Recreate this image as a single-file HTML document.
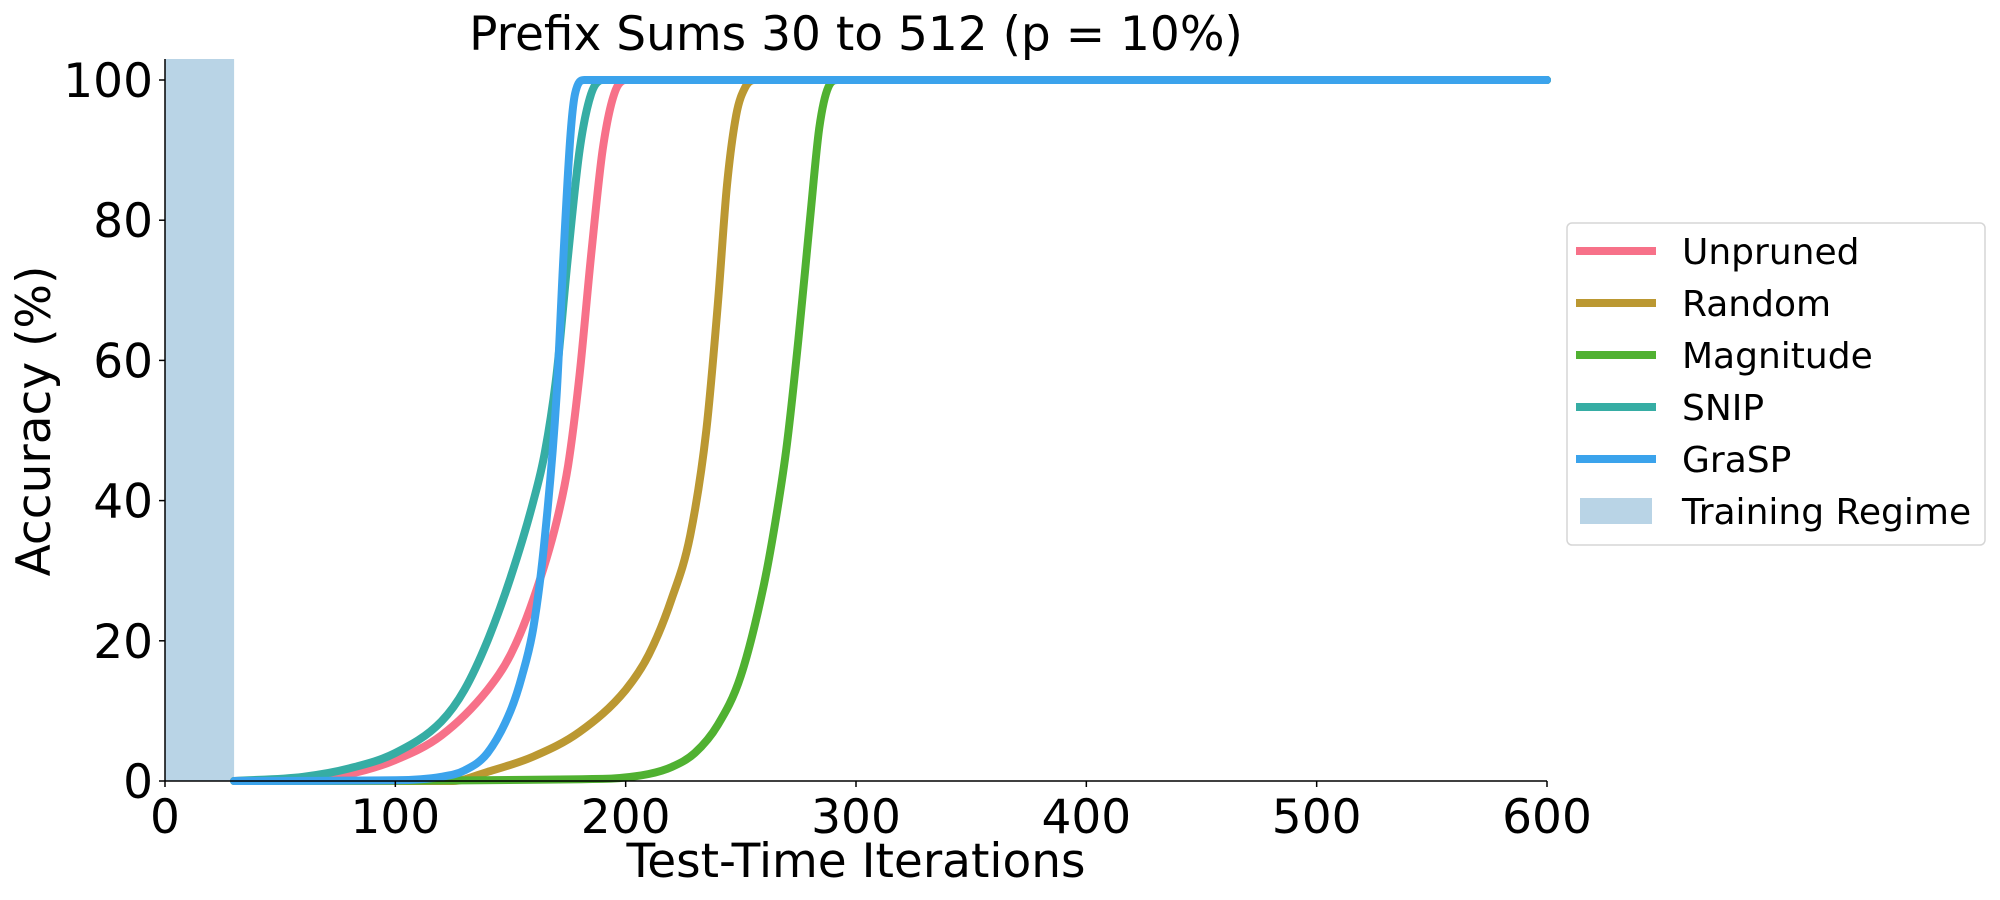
<!DOCTYPE html>
<html><head><meta charset="utf-8"><style>
html,body{margin:0;padding:0;background:#fff;}
svg{display:block;font-family:"DejaVu Sans","Liberation Sans",sans-serif;}
</style></head><body>
<svg id="chart" width="2000" height="900" viewBox="0 0 2000 900">
<rect x="0" y="0" width="2000" height="900" fill="#fff"/>
<g id="plot"></g>
</svg>
<script>
const xTicks=[0,100,200,300,400,500,600];
const yTicks=[0,20,40,60,80,100];
const trainingRegime=[0,30];
const seriesNames=["Unpruned","Random","Magnitude","SNIP","GraSP"];
const seriesColors=["#f77189","#bb9832","#50b131","#36ada4","#3ba3ec"];
const unprunedX=[30,60,80,100,120,140,150,160,170,175,180,185,190,195,200,600];
const unprunedY=[0,0.3,1,3,6.5,13,18,26,37,45,58,75,90,98,100,100];
const randomX=[30,125,140,160,180,200,210,220,228,235,240,244,248,252,256,600];
const randomY=[0,0,1.3,3.5,7,13,18,26,35,50,68,85,95,99,100,100];
const magnitudeX=[30,190,210,220,230,240,250,260,265,270,275,280,284,288,292,600];
const magnitudeY=[0,0.3,1,2,4,8,15,28,37,48,63,80,93,99,100,100];
const snipX=[30,60,80,100,120,130,140,150,160,165,170,175,180,185,190,600];
const snipY=[0,0.6,1.8,4,8.5,13,20,29,40,47,58,75,90,98,100,100];
const graspX=[30,100,120,130,140,150,155,160,165,170,173,176,178,182,600];
const graspY=[0,0.1,0.6,1.5,4,10,15,22,35,55,75,92,98,100,100];
const seriesX=[unprunedX,randomX,magnitudeX,snipX,graspX];
const seriesY=[unprunedY,randomY,magnitudeY,snipY,graspY];

const X0=165,X1=1547,Y0=781,Y1=80;
const sx=v=>X0+(v-0)/(600-0)*(X1-X0);
const sy=v=>Y0-(v-0)/(100-0)*(Y0-Y1);
const NS="http://www.w3.org/2000/svg";
const g=document.getElementById('plot');
function mk(tag,attrs,parent){const e=document.createElementNS(NS,tag);for(const k in attrs)e.setAttribute(k,attrs[k]);(parent||g).appendChild(e);return e;}

function monoPath(xs,ys){
  const n=xs.length,px=xs.map(sx),py=ys.map(sy);
  const d=[],m=[];
  for(let i=0;i<n-1;i++)d.push((py[i+1]-py[i])/(px[i+1]-px[i]));
  m[0]=d[0];m[n-1]=d[n-2];
  for(let i=1;i<n-1;i++){m[i]=(d[i-1]*d[i]<=0)?0:(d[i-1]+d[i])/2;}
  for(let i=0;i<n-1;i++){
    if(d[i]===0){m[i]=0;m[i+1]=0;continue;}
    const a=m[i]/d[i],b=m[i+1]/d[i],s=a*a+b*b;
    if(s>9){const t=3/Math.sqrt(s);m[i]=t*a*d[i];m[i+1]=t*b*d[i];}
  }
  let p='M'+px[0].toFixed(1)+','+py[0].toFixed(1);
  for(let i=0;i<n-1;i++){
    const h=(px[i+1]-px[i])/3;
    p+=' C'+(px[i]+h).toFixed(1)+','+(py[i]+m[i]*h).toFixed(1)+' '+(px[i+1]-h).toFixed(1)+','+(py[i+1]-m[i+1]*h).toFixed(1)+' '+px[i+1].toFixed(1)+','+py[i+1].toFixed(1);
  }
  return p;
}

const span=mk('rect',{x:sx(trainingRegime[0]),y:59,width:sx(trainingRegime[1])-sx(trainingRegime[0]),height:Y0-59,fill:'#b9d4e6'});



seriesNames.forEach((n,i)=>{
  const p=mk('path',{d:monoPath(seriesX[i],seriesY[i]),fill:'none',stroke:seriesColors[i],'stroke-width':8,'stroke-linejoin':'round','stroke-linecap':'round'});
  
  
});

const ya=mk('line',{x1:X0,y1:59,x2:X0,y2:Y0,stroke:'#000','stroke-width':1.5});


const xa=mk('line',{x1:X0,y1:Y0,x2:X1,y2:Y0,stroke:'#000','stroke-width':1.5});



xTicks.forEach(v=>{
  mk('line',{x1:sx(v),y1:Y0,x2:sx(v),y2:Y0+6,stroke:'#000','stroke-width':1.5});
  const t=mk('text',{x:sx(v),y:833,'text-anchor':'middle','font-size':47,fill:'#000'});
  t.textContent=v;
  
  
});
yTicks.forEach(v=>{
  mk('line',{x1:X0,y1:sy(v),x2:X0-6,y2:sy(v),stroke:'#000','stroke-width':1.5});
  const t=mk('text',{x:153,y:sy(v)+17,'text-anchor':'end','font-size':47,fill:'#000'});
  t.textContent=v;
  
  
});

const title=mk('text',{x:856,y:50,'text-anchor':'middle','font-size':47,fill:'#000'});
title.textContent='Prefix Sums 30 to 512 (p = 10%)';


const xl=mk('text',{x:856,y:877,'text-anchor':'middle','font-size':47,fill:'#000'});
xl.textContent='Test-Time Iterations';


const yl=mk('text',{x:0,y:0,'text-anchor':'middle','font-size':47,fill:'#000',transform:'translate(50,421) rotate(-90)'});
yl.textContent='Accuracy (%)';



const lg=mk('g',{});


mk('rect',{x:1567,y:223,width:418,height:322,rx:5,fill:'#fff',stroke:'#d6d6d6','stroke-width':1.5},lg);
seriesNames.concat(['Training Regime']).forEach((n,i)=>{
  const cy=251+i*52;
  const e=mk('g',{},lg);
  
  
  if(i<5) mk('line',{x1:1576,y1:cy,x2:1656,y2:cy,stroke:seriesColors[i],'stroke-width':8},e);
  else mk('rect',{x:1580,y:cy-13,width:72,height:26,fill:'#b9d4e6'},e);
  const t=mk('text',{x:1682,y:cy+13,'font-size':36,fill:'#000'},e);
  t.textContent=n;
});
</script>
</body></html>
